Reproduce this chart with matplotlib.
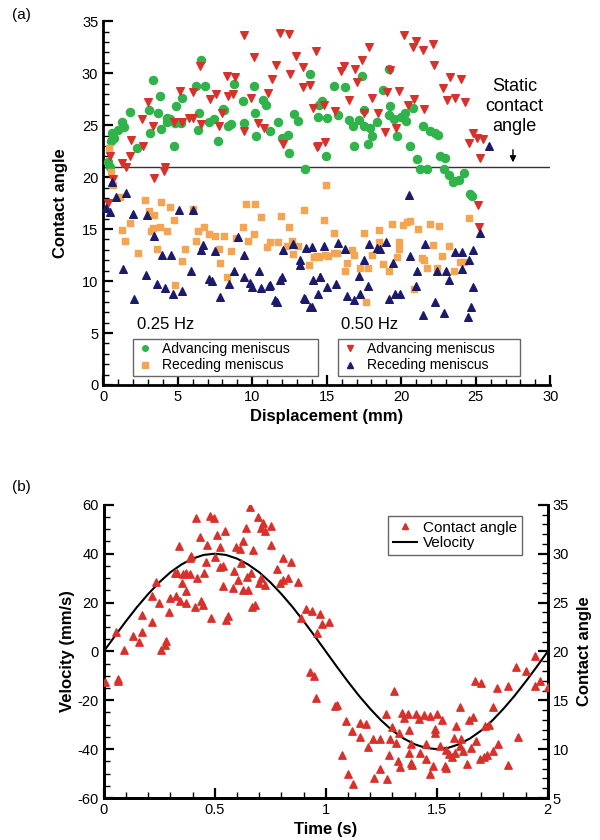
import numpy as np
import matplotlib
matplotlib.use("Agg")
import matplotlib.pyplot as plt
from matplotlib.ticker import MultipleLocator
from matplotlib.lines import Line2D

plt.rcParams['font.family'] = ['Liberation Sans', 'DejaVu Sans']
plt.rcParams['axes.unicode_minus'] = False

# ---- (a) contact angle vs displacement ----
# 0.25 Hz advancing
adv25_x = [0.3, 0.47, 0.5, 0.58, 0.7, 0.96, 1.27, 1.41, 1.77, 2.26, 3.07, 3.15, 3.33, 3.69, 3.78, 3.89,
           4.27, 4.3, 4.5, 4.72, 4.83, 4.9, 5.21, 5.28, 6.2, 6.35, 6.42, 6.56, 6.8, 7.09, 7.45, 7.7,
           8.01, 8.12, 8.4, 8.6, 8.8, 9.4, 9.42, 10.1, 10.16, 10.27, 10.7, 10.9, 11.2, 11.76, 11.99, 12.37,
           12.44, 12.8, 13.1, 13.56, 13.85, 14.4, 14.45, 14.68, 14.97, 15.0, 15.46, 15.75, 16.2, 16.47,
           16.76, 16.8, 17.14, 17.34, 17.47, 17.5, 17.8, 17.9, 18.03, 18.4, 18.76, 19.15, 19.2, 19.26,
           19.49, 19.71, 20.0, 20.27, 20.33, 20.6, 20.8, 21.05, 21.27, 21.45, 21.72, 21.9, 22.28, 22.5,
           22.62, 22.84, 22.95, 23.24, 23.5, 23.56, 23.9, 24.2, 24.6, 24.75]
adv25_y = [21.5, 21.0, 23.5, 24.2, 23.8, 24.5, 25.3, 24.8, 26.3, 22.8, 26.5, 24.2, 29.3, 26.2, 27.8, 24.6,
           25.7, 25.3, 25.6, 23.0, 25.2, 26.8, 25.2, 27.6, 28.75, 24.5, 26.2, 31.3, 28.75, 25.3, 25.6, 23.5,
           26.6, 26.5, 24.9, 25.1, 29.0, 27.3, 25.2, 28.75, 26.2, 24.0, 27.4, 26.9, 24.4, 25.3, 23.8, 24.1,
           22.3, 26.1, 25.4, 20.8, 29.9, 25.8, 26.9, 27.3, 22.0, 25.7, 28.75, 26.0, 28.7, 25.5,
           24.9, 23.0, 25.5, 29.7, 26.5, 24.9, 23.2, 24.7, 24.0, 25.3, 28.4, 26.0, 30.4, 26.8,
           25.6, 24.0, 25.8, 26.2, 25.4, 23.0, 26.7, 21.7, 20.8, 24.95, 20.8, 24.4, 24.2, 24.1,
           22.0, 20.8, 21.8, 20.2, 19.55, 19.6, 19.7, 20.4, 18.4, 18.2]

# 0.25 Hz receding
rec25_x = [0.4, 0.5, 0.65, 1.1, 1.25, 1.48, 1.77, 2.33, 2.82, 3.1, 3.22, 3.33, 3.42, 3.6, 3.82, 3.89,
           4.27, 4.45, 4.72, 4.83, 5.28, 5.5, 6.0, 6.24, 6.33, 6.77, 7.07, 7.51, 7.74, 7.85, 8.12, 8.3,
           8.57, 8.9, 9.37, 9.6, 9.75, 10.09, 10.2, 10.6, 10.98, 11.2, 11.7, 11.92, 12.33, 12.5, 12.66,
           12.77, 13.1, 13.5, 13.78, 14.12, 14.16, 14.34, 14.45, 14.83, 14.9, 14.97, 15.12, 15.46,
           15.46, 15.72, 16.24, 16.35, 16.69, 16.8, 17.25, 17.47, 17.65, 17.8, 18.03, 18.5, 18.54, 18.8,
           19.2, 19.37, 19.71, 19.82, 19.82, 20.15, 20.42, 20.6, 20.83, 21.1, 21.39, 21.5, 21.72, 21.9,
           22.13, 22.4, 22.57, 22.73, 23.24, 23.56, 23.96, 24.19, 24.52]
rec25_y = [22.8, 20.5, 19.2, 18.1, 14.9, 13.9, 15.6, 12.7, 17.8, 16.7, 14.8, 15.1, 16.4, 13.1, 15.2, 17.6,
           14.85, 17.1, 15.9, 9.6, 11.9, 13.1, 16.9, 13.9, 14.85, 15.2, 14.5, 14.3, 13.1, 11.7, 14.3, 10.4,
           12.9, 14.1, 15.2, 17.4, 13.9, 14.5, 17.4, 16.2, 13.3, 13.8, 13.8, 16.3, 13.4, 15.2, 13.9,
           12.6, 13.4, 16.8, 11.5, 12.3, 12.3, 12.4, 12.3, 15.9, 12.5, 19.2, 12.4, 14.6,
           12.7, 12.7, 11.0, 11.7, 13.0, 12.5, 11.3, 14.6, 8.0, 11.3, 12.5, 13.8, 14.9, 11.6,
           11.0, 15.5, 12.3, 13.8, 13.1, 15.4, 15.7, 15.8, 9.2, 15.0, 12.2, 12.0, 11.3, 15.5,
           13.5, 11.3, 15.3, 12.4, 13.4, 11.0, 11.8, 11.8, 16.1]

# 0.50 Hz advancing
adv50_x = [0.3, 0.44, 0.67, 1.25, 1.54, 1.77, 1.86, 2.62, 2.7, 3.02, 3.33, 3.44, 4.09, 4.16, 4.72, 5.17,
           5.28, 5.79, 6.0, 6.06, 6.47, 6.57, 7.18, 7.6, 7.74, 7.96, 8.3, 8.35, 8.7, 8.86, 9.46, 9.46,
           9.9, 10.1, 10.4, 10.76, 11.06, 11.3, 11.57, 11.88, 12.06, 12.5, 12.55, 12.95, 13.4, 13.4,
           13.9, 14.05, 14.3, 14.34, 14.4, 14.79, 14.9, 15.57, 15.97, 16.13, 16.53, 16.87, 17.02, 17.36,
           17.47, 17.85, 18.07, 18.44, 18.93, 19.04, 19.26, 19.66, 19.82, 20.2, 20.43, 20.8, 20.87, 21.0,
           21.46, 21.5, 22.13, 22.17, 22.8, 23.06, 23.3, 23.62, 24.0, 24.3, 24.52, 24.81, 25.08, 25.3,
           25.48, 25.13, 25.24]
adv50_y = [17.5, 22.0, 19.8, 21.4, 21.0, 22.0, 23.6, 25.6, 23.0, 27.2, 24.95, 19.9, 20.6, 21.0, 25.3, 28.3,
           25.3, 25.7, 28.2, 25.7, 30.7, 25.1, 27.5, 28.0, 24.9, 26.2, 29.7, 27.8, 28.0, 29.6, 33.65, 24.4,
           27.6, 31.6, 25.2, 24.7, 28.1, 29.4, 30.8, 33.9, 23.2, 33.8, 29.9, 31.7, 30.6, 28.7,
           28.9, 26.7, 32.15, 22.9, 23.0, 26.9, 23.4, 26.4, 30.2, 30.7, 27.4, 30.4, 29.2, 31.3,
           26.2, 32.5, 27.6, 26.2, 24.3, 28.2, 30.3, 24.7, 28.3, 33.7, 26.9, 32.5, 27.5, 33.1,
           32.2, 26.6, 32.8, 30.8, 28.6, 27.4, 29.65, 27.6, 29.4, 27.2, 23.3, 24.2, 23.8, 21.8,
           23.7, 17.3, 15.2]

# 0.50 Hz receding
rec50_x = [0.2, 0.47, 0.58, 0.87, 1.36, 1.54, 2.03, 2.1, 2.88, 2.97, 3.44, 3.64, 3.93, 4.16, 4.54, 4.68,
           5.12, 5.32, 5.9, 6.06, 6.55, 6.73, 7.07, 7.29, 7.51, 7.85, 8.41, 8.75, 9.04, 9.42, 9.48, 9.82,
           9.98, 10.43, 10.58, 11.1, 11.2, 11.54, 11.65, 11.88, 11.99, 12.06, 12.73, 13.18, 13.18, 13.45,
           13.56, 13.63, 13.9, 14.01, 14.01, 14.08, 14.4, 14.52, 14.57, 14.79, 15.01, 15.63, 15.79, 16.24,
           16.35, 16.8, 17.14, 17.25, 17.47, 17.74, 17.87, 18.37, 18.59, 18.99, 19.15, 19.48, 19.6, 19.93,
           20.49, 20.56, 21.0, 21.05, 21.45, 21.61, 22.28, 22.4, 22.86, 23.02, 23.24, 23.62, 24.07, 24.07,
           24.47, 24.52, 24.7, 24.79, 24.8, 25.3, 25.9]
rec50_y = [17.0, 16.6, 19.5, 18.1, 11.2, 18.5, 16.5, 8.3, 10.6, 16.4, 14.3, 9.7, 12.5, 9.3, 12.5, 8.8,
           16.8, 9.0, 11.0, 16.8, 13.0, 13.5, 10.2, 10.0, 12.9, 8.5, 9.7, 11.0, 14.2, 10.4, 12.5, 9.8,
           9.4, 11.0, 9.3, 9.5, 9.6, 8.2, 8.0, 10.1, 10.4, 13.0, 13.6, 12.0, 11.5, 8.4,
           8.3, 13.2, 7.5, 13.3, 7.5, 10.1, 8.8, 10.4, 10.4, 13.4, 9.4, 9.7, 13.7, 13.1,
           8.6, 8.2, 10.5, 8.8, 12.0, 9.5, 13.6, 13.2, 13.1, 13.8, 8.3, 11.7, 8.8, 8.8,
           18.3, 12.4, 9.5, 11.0, 6.7, 13.6, 8.0, 11.0, 6.9, 11.0, 10.1, 12.8, 12.8, 11.2,
           6.5, 12.0, 7.5, 9.4, 13.0, 14.6, 23.0]

static_angle = 21

# ---- (b) velocity and contact angle vs time ----
time_v = [0.0, 0.05, 0.1, 0.15, 0.2, 0.25, 0.3, 0.35, 0.4, 0.45, 0.5, 0.55, 0.6, 0.65, 0.7, 0.75, 0.8,
          0.85, 0.9, 0.95, 1.0, 1.05, 1.1, 1.15, 1.2, 1.25, 1.3, 1.35, 1.4, 1.45, 1.5, 1.55, 1.6, 1.65,
          1.7, 1.75, 1.8, 1.85, 1.9, 1.95, 2.0]
velocity = [0.0, 6.3, 12.4, 18.2, 23.5, 28.3, 32.4, 35.6, 38.0, 39.5, 40.0, 39.5, 38.0, 35.6, 32.4, 28.3,
            23.5, 18.2, 12.4, 6.3, 0.0, -6.3, -12.4, -18.2, -23.5, -28.3, -32.4, -35.6, -38.0, -39.5,
            -40.0, -39.5, -38.0, -35.6, -32.4, -28.3, -23.5, -18.2, -12.4, -6.3, 0.0]

ca_t = [0.658, 0.414, 0.477, 0.497, 0.695, 0.715, 0.755, 0.706, 0.728, 0.64, 0.548, 0.508, 0.432, 0.628,
        0.755, 0.34, 0.465, 0.523, 0.597, 0.612, 0.672, 0.395, 0.387, 0.459, 0.5, 0.617, 0.808, 0.845,
        0.782, 0.523, 0.538, 0.587, 0.665, 0.32, 0.33, 0.357, 0.372, 0.387, 0.452, 0.42, 0.354, 0.83,
        0.808, 0.793, 0.875, 0.605, 0.643, 0.706, 0.237, 0.538, 0.58, 0.625, 0.65, 0.698, 0.728, 0.372,
        0.219, 0.297, 0.324, 0.249, 0.342, 0.372, 0.437, 0.447, 0.41, 0.668, 0.68, 0.294, 0.913, 0.94,
        0.973, 0.174, 0.56, 0.55, 0.485, 0.887, 0.983, 1.015, 0.219, 0.057, 0.17, 0.132, 0.159, 0.962,
        0.279, 0.275, 0.257, 0.092, 0.062, 0.928, 0.946, 0.005, 0.065, 0.958, 1.04, 1.05, 1.09, 1.073,
        1.1, 1.119, 1.153, 1.18, 1.153, 1.188, 1.123, 1.213, 1.243, 1.218, 1.246, 1.276, 1.273, 1.288,
        1.3, 1.306, 1.315, 1.33, 1.285, 1.323, 1.336, 1.341, 1.351, 1.37, 1.375, 1.375, 1.386, 1.39,
        1.382, 1.408, 1.42, 1.441, 1.423, 1.453, 1.453, 1.468, 1.468, 1.483, 1.491, 1.491, 1.501, 1.525,
        1.513, 1.536, 1.54, 1.54, 1.555, 1.57, 1.58, 1.576, 1.588, 1.603, 1.611, 1.606, 1.617, 1.635,
        1.645, 1.656, 1.663, 1.678, 1.674, 1.701, 1.693, 1.711, 1.726, 1.719, 1.735, 1.751, 1.754, 1.776,
        1.772, 1.822, 1.822, 1.866, 1.856, 1.904, 1.941, 1.941, 1.964, 2.0]
ca_val = [34.8, 33.7, 33.9, 33.7, 33.8, 33.1, 32.8, 32.6, 32.3, 32.6, 32.3, 31.9, 31.7, 31.3,
          30.9, 30.8, 30.9, 30.7, 30.7, 30.5, 30.4, 29.8, 29.6, 29.2, 29.7, 29.0, 29.6, 29.2,
          28.4, 28.6, 28.7, 28.2, 28.0, 28.0, 28.0, 27.9, 28.0, 27.9, 28.0, 27.5, 27.0, 27.5,
          27.3, 27.0, 27.1, 27.3, 27.6, 27.5, 27.1, 26.7, 26.5, 26.3, 26.3, 27.0, 26.8, 26.2,
          25.7, 25.5, 25.7, 25.0, 25.2, 25.0, 25.2, 24.7, 24.5, 24.5, 24.7, 24.0, 24.3, 24.1,
          23.8, 23.7, 23.6, 23.2, 23.4, 23.4, 22.8, 23.0, 23.0, 22.0, 22.0, 21.6, 21.0, 21.9,
          21.1, 20.7, 20.1, 20.1, 17.2, 17.9, 17.5, 16.9, 17.0, 15.2, 14.45, 14.5, 12.9, 9.36,
          7.44, 11.9, 12.7, 12.55, 11.2, 10.2, 6.4, 11.0, 11.0, 7.0, 8.0, 6.9, 13.6, 11.0,
          12.3, 16.0, 10.6, 11.7, 9.4, 8.8, 8.2, 13.7, 13.2, 13.6, 12.0, 9.6, 8.6, 8.4,
          10.5, 13.6, 13.1, 13.5, 9.6, 10.5, 9.0, 7.5, 13.4, 8.3, 12.1, 11.7, 13.6, 13.0,
          10.3, 8.3, 8.1, 9.9, 9.5, 9.2, 9.6, 11.1, 12.4, 10.3, 11.0, 14.3, 9.8, 8.5,
          13.0, 10.1, 13.3, 10.8, 17.0, 16.8, 9.0, 9.2, 9.4, 12.4, 12.5, 9.8, 14.3, 10.5,
          16.3, 16.5, 8.4, 11.2, 18.4, 18.0, 19.5, 16.5, 17.0, 16.4]

green = '#2fb34a'
orange = '#f5a552'
red = '#d8312b'
navy = '#1c1a6b'

fig = plt.figure(figsize=(6, 8.4), dpi=100)

# ---------------- panel (a) ----------------
ax = fig.add_axes([0.172, 0.5417, 0.745, 0.433])
ax.scatter(adv25_x, adv25_y, s=34, marker='o', color=green, zorder=3)
ax.scatter(rec25_x, rec25_y, s=22, marker='s', color=orange, zorder=3)
ax.scatter(adv50_x, adv50_y, s=30, marker='v', color=red, zorder=3)
ax.scatter(rec50_x, rec50_y, s=30, marker='^', color=navy, zorder=3)
ax.axhline(static_angle, color='#333333', lw=1, zorder=2)

ax.set_xlim(0, 30)
ax.set_ylim(0, 35)
ax.xaxis.set_major_locator(MultipleLocator(5))
ax.xaxis.set_minor_locator(MultipleLocator(1))
ax.yaxis.set_major_locator(MultipleLocator(5))
ax.yaxis.set_minor_locator(MultipleLocator(1))
for s in ['top', 'right']:
    ax.spines[s].set_visible(False)
for s in ['left', 'bottom']:
    ax.spines[s].set_linewidth(2)
ax.tick_params(which='major', direction='in', length=7, width=1.6, labelsize=10.5)
ax.tick_params(which='minor', direction='in', length=4, width=1)
ax.set_xlabel('Displacement (mm)', fontsize=12, fontweight='bold', labelpad=4)
ax.set_ylabel('Contact angle', fontsize=12, fontweight='bold', labelpad=10)

ax.text(27.6, 26.8, 'Static\ncontact\nangle', ha='center', va='center', fontsize=13, linespacing=1.2)
ax.annotate('', xy=(27.5, 21.15), xytext=(27.5, 22.9),
            arrowprops=dict(arrowstyle='-|>', color='black', lw=1, mutation_scale=9))

h25 = [Line2D([], [], ls='none', marker='o', color=green, markersize=4),
       Line2D([], [], ls='none', marker='s', color=orange, markersize=4)]
h50 = [Line2D([], [], ls='none', marker='v', color=red, markersize=5),
       Line2D([], [], ls='none', marker='^', color=navy, markersize=5)]
leg1 = ax.legend(h25, ['Advancing meniscus', 'Receding meniscus'], loc='lower left',
                 bbox_to_anchor=(0.067, 0.025, 0.414, 0.118), mode='expand', fontsize=10,
                 fancybox=False, edgecolor='#666666', framealpha=1, borderpad=0.25,
                 labelspacing=0.15, handletextpad=0.6, handlelength=1.2, borderaxespad=0)
leg1.get_frame().set_linewidth(1)
ax.add_artist(leg1)
leg2 = ax.legend(h50, ['Advancing meniscus', 'Receding meniscus'], loc='lower left',
                 bbox_to_anchor=(0.526, 0.025, 0.407, 0.118), mode='expand', fontsize=10,
                 fancybox=False, edgecolor='#666666', framealpha=1, borderpad=0.25,
                 labelspacing=0.15, handletextpad=0.6, handlelength=1.2, borderaxespad=0)
leg2.get_frame().set_linewidth(1)
ax.text(0.075, 0.155, '0.25 Hz', transform=ax.transAxes, fontsize=12)
ax.text(0.532, 0.155, '0.50 Hz', transform=ax.transAxes, fontsize=12)

fig.text(0.02, 0.977, '(a)', fontsize=11)

# ---------------- panel (b) ----------------
bx = fig.add_axes([0.173, 0.05, 0.74, 0.349])
bx.plot(time_v, velocity, color='black', lw=1.5, zorder=2)
bx.set_xlim(0, 2)
bx.set_ylim(-60, 60)
bx.xaxis.set_major_locator(MultipleLocator(0.5))
bx.xaxis.set_minor_locator(MultipleLocator(0.1))
bx.yaxis.set_major_locator(MultipleLocator(20))
bx.yaxis.set_minor_locator(MultipleLocator(5))
bx.set_xticks([0, 0.5, 1, 1.5, 2])
bx.set_xticklabels(['0', '0.5', '1', '1.5', '2'])

cx = bx.twinx()
cx.scatter(ca_t, ca_val, s=28, marker='^', color=red, zorder=3)
cx.set_ylim(5, 35)
cx.yaxis.set_major_locator(MultipleLocator(5))
cx.yaxis.set_minor_locator(MultipleLocator(1))

for a in (bx, cx):
    a.spines['top'].set_visible(False)
    for s in ['left', 'bottom', 'right']:
        a.spines[s].set_linewidth(2)
    a.tick_params(which='major', direction='in', length=7, width=1.6, labelsize=10.5)
    a.tick_params(which='minor', direction='in', length=4, width=1)

bx.set_xlabel('Time (s)', fontsize=12, fontweight='bold', labelpad=4)
bx.set_ylabel('Velocity (mm/s)', fontsize=12, fontweight='bold', labelpad=2)
cx.set_ylabel('Contact angle', fontsize=12, fontweight='bold', labelpad=6)

hb = [Line2D([], [], ls='none', marker='^', color=red, markersize=5),
      Line2D([], [], color='black', lw=1.5)]
legb = cx.legend(hb, ['Contact angle', 'Velocity'], loc='upper left',
                 bbox_to_anchor=(0.64, 0.962), fontsize=11, fancybox=False,
                 edgecolor='#666666', framealpha=1, borderpad=0.3, labelspacing=0.1,
                 handletextpad=0.4, handlelength=1.6, borderaxespad=0)
legb.get_frame().set_linewidth(1)

fig.text(0.02, 0.415, '(b)', fontsize=11)

fig.savefig('out.png', dpi=100)
